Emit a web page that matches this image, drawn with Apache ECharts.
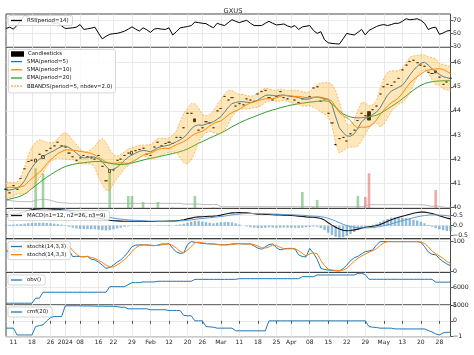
<!DOCTYPE html>
<html><head><meta charset="utf-8">
<script src="https://cdn.jsdelivr.net/npm/echarts@6/dist/echarts.min.js"></script>
<style>html,body{margin:0;padding:0;background:#fff}#c{width:474px;height:355px}</style>
</head><body><div id="c"></div>
<script>
const dates = [
'2023-12-07','2023-12-08','2023-12-11','2023-12-12','2023-12-13','2023-12-14','2023-12-15','2023-12-18','2023-12-19','2023-12-20',
'2023-12-21','2023-12-22','2023-12-26','2023-12-27','2023-12-28','2023-12-29','2024-01-02','2024-01-03','2024-01-04','2024-01-05',
'2024-01-08','2024-01-09','2024-01-10','2024-01-11','2024-01-12','2024-01-16','2024-01-17','2024-01-18','2024-01-19','2024-01-22',
'2024-01-23','2024-01-24','2024-01-25','2024-01-26','2024-01-29','2024-01-30','2024-01-31','2024-02-01','2024-02-02','2024-02-05',
'2024-02-06','2024-02-07','2024-02-08','2024-02-09','2024-02-12','2024-02-13','2024-02-14','2024-02-15','2024-02-16','2024-02-20',
'2024-02-21','2024-02-22','2024-02-23','2024-02-26','2024-02-27','2024-02-28','2024-02-29','2024-03-01','2024-03-04','2024-03-05',
'2024-03-06','2024-03-07','2024-03-08','2024-03-11','2024-03-12','2024-03-13','2024-03-14','2024-03-15','2024-03-18','2024-03-19',
'2024-03-20','2024-03-21','2024-03-22','2024-03-25','2024-03-26','2024-03-27','2024-03-28','2024-04-01','2024-04-02','2024-04-03',
'2024-04-04','2024-04-05','2024-04-08','2024-04-09','2024-04-10','2024-04-11','2024-04-12','2024-04-15','2024-04-16','2024-04-17',
'2024-04-18','2024-04-19','2024-04-22','2024-04-23','2024-04-24','2024-04-25','2024-04-26','2024-04-29','2024-04-30','2024-05-01',
'2024-05-02','2024-05-03','2024-05-06','2024-05-07','2024-05-08','2024-05-09','2024-05-10','2024-05-13','2024-05-14','2024-05-15',
'2024-05-16','2024-05-17','2024-05-20','2024-05-21','2024-05-22','2024-05-23','2024-05-24','2024-05-28','2024-05-29','2024-05-30',
'2024-05-31'];

const tickDates = ['2023-12-11','2023-12-18','2023-12-26','2024-01-02','2024-01-08','2024-01-16','2024-01-22','2024-01-29','2024-02-05','2024-02-12','2024-02-20','2024-02-26','2024-03-04','2024-03-11','2024-03-18','2024-03-25','2024-04-01','2024-04-08','2024-04-15','2024-04-22','2024-04-29','2024-05-06','2024-05-13','2024-05-20','2024-05-28'];
const tickLabels = ['11','18','26','2024','08','16','22','29','Feb','12','20','26','Mar','11','18','25','Apr','08','15','22','29','May','13','20','28'];

const close = [
40.75,40.60,40.90,40.75,41.20,41.60,41.90,41.95,42.00,42.20,
42.15,42.35,42.45,42.55,42.70,42.55,42.50,42.25,42.10,41.95,
42.05,42.15,42.10,42.05,42.00,42.15,41.70,41.10,41.57,41.55,
41.95,42.00,42.15,42.25,42.32,42.35,42.40,42.45,42.20,42.15,
42.50,42.70,42.55,42.65,42.70,42.65,42.90,42.90,43.30,43.90,
43.90,43.55,43.20,43.30,43.55,43.50,43.30,44.00,44.10,44.60,
44.45,44.55,44.20,44.30,44.25,44.50,44.45,44.40,44.70,44.80,
44.85,44.55,44.45,44.60,44.80,44.55,44.50,44.60,44.45,44.35,
44.50,44.55,44.60,44.95,45.00,44.40,44.50,43.90,43.50,42.60,
42.85,42.90,42.75,43.05,43.20,43.60,43.90,43.80,43.62,44.05,
44.20,44.70,45.00,45.10,45.05,45.20,45.35,45.70,45.90,46.05,
46.10,46.00,45.90,45.85,45.60,45.55,45.58,45.40,45.10,45.20,45.35];
const open = [
40.75,40.60,40.90,40.75,41.20,41.60,41.90,41.95,41.88,42.20,
42.03,42.35,42.45,42.55,42.70,42.55,42.50,42.25,42.10,41.95,
42.05,42.15,42.10,42.05,42.00,42.15,41.70,41.10,41.45,41.55,
41.95,42.00,42.15,42.25,42.20,42.35,42.40,42.45,42.20,42.15,
42.50,42.70,42.55,42.65,42.70,42.65,42.90,42.90,43.30,43.90,
43.90,43.67,43.20,43.30,43.55,43.50,43.30,44.00,44.10,44.60,
44.45,44.55,44.20,44.30,44.25,44.50,44.45,44.40,44.70,44.80,
44.85,44.55,44.45,44.60,44.80,44.55,44.50,44.60,44.45,44.35,
44.50,44.55,44.60,44.95,45.00,44.40,44.50,43.90,43.50,42.60,
42.85,42.90,42.75,43.05,43.20,43.60,43.90,43.80,43.97,44.05,
44.20,44.70,45.00,45.10,45.05,45.20,45.35,45.70,45.90,46.05,
46.10,46.00,45.90,45.85,45.60,45.55,45.66,45.40,45.10,45.20,45.35];

const sma5 = [
40.70,40.72,40.75,40.80,40.90,41.10,41.40,41.65,41.85,42.00,
42.10,42.20,42.28,42.35,42.45,42.52,42.55,42.48,42.38,42.25,
42.12,42.05,42.06,42.10,42.08,42.00,41.90,41.70,41.55,41.58,
41.66,41.80,41.95,42.08,42.17,42.25,42.32,42.36,42.34,42.30,
42.38,42.48,42.52,42.55,42.58,42.65,42.72,42.80,42.90,43.05,
43.25,43.38,43.42,43.40,43.45,43.50,43.55,43.65,43.76,43.95,
44.15,44.30,44.35,44.38,44.38,44.36,44.35,44.38,44.45,44.55,
44.64,44.66,44.64,44.62,44.65,44.66,44.62,44.60,44.58,44.55,
44.50,44.48,44.50,44.55,44.58,44.56,44.52,44.48,44.25,43.75,
43.30,43.10,42.96,42.95,43.05,43.28,43.55,43.68,43.75,43.85,
43.95,44.12,44.40,44.65,44.82,44.90,44.98,45.06,45.25,45.48,
45.68,45.85,45.98,46.02,45.90,45.75,45.62,45.52,45.42,45.38,45.34];
const sma10 = [
40.82,40.83,40.83,40.82,40.85,40.90,41.06,41.20,41.33,41.45,
41.60,41.80,41.97,42.10,42.23,42.31,42.38,42.38,42.37,42.35,
42.32,42.30,42.27,42.24,42.17,42.06,41.98,41.88,41.83,41.83,
41.83,41.85,41.83,41.82,41.88,41.96,42.06,42.16,42.21,42.24,
42.32,42.40,42.44,42.45,42.44,42.52,42.60,42.66,42.73,42.82,
42.95,43.05,43.11,43.15,43.25,43.38,43.47,43.54,43.58,43.70,
43.83,43.93,44.00,44.07,44.17,44.26,44.33,44.37,44.42,44.47,
44.50,44.51,44.51,44.54,44.60,44.65,44.64,44.62,44.60,44.60,
44.58,44.55,44.55,44.57,44.57,44.53,44.50,44.49,44.40,44.17,
43.93,43.81,43.72,43.60,43.40,43.29,43.33,43.32,43.35,43.45,
43.62,43.84,44.04,44.20,44.34,44.43,44.55,44.73,44.95,45.15,
45.29,45.42,45.52,45.64,45.69,45.72,45.74,45.75,45.72,45.64,45.55];
const ema20 = [
40.30,40.34,40.38,40.42,40.47,40.55,40.65,40.78,40.90,41.02,
41.14,41.25,41.35,41.45,41.54,41.62,41.69,41.74,41.78,41.81,
41.83,41.85,41.87,41.89,41.90,41.90,41.89,41.86,41.83,41.80,
41.78,41.77,41.78,41.80,41.84,41.88,41.92,41.96,42.00,42.03,
42.06,42.09,42.13,42.16,42.20,42.23,42.27,42.31,42.36,42.42,
42.50,42.58,42.66,42.73,42.80,42.87,42.94,43.01,43.08,43.16,
43.25,43.34,43.42,43.50,43.57,43.64,43.70,43.76,43.82,43.88,
43.94,43.99,44.04,44.08,44.13,44.17,44.21,44.24,44.27,44.30,
44.32,44.34,44.36,44.38,44.40,44.41,44.42,44.40,44.30,44.15,
44.00,43.88,43.80,43.75,43.72,43.71,43.72,43.73,43.75,43.78,
43.82,43.89,43.98,44.08,44.18,44.28,44.38,44.50,44.62,44.74,
44.86,44.97,45.06,45.13,45.18,45.21,45.23,45.24,45.25,45.25,45.25];
const bbUpper = [
41.05,41.04,41.03,41.05,41.25,41.65,42.15,42.50,42.70,42.80,
42.75,42.70,42.68,42.70,42.85,43.02,43.10,42.98,42.78,42.60,
42.42,42.30,42.31,42.40,42.53,42.75,42.85,42.70,42.40,42.18,
42.11,42.20,42.30,42.43,42.47,42.53,42.57,42.58,42.59,42.60,
42.73,42.86,42.87,42.85,42.88,43.00,43.17,43.55,43.90,44.10,
44.30,44.30,44.12,43.85,43.80,43.85,44.00,44.25,44.46,44.70,
44.85,44.85,44.75,44.68,44.68,44.64,44.60,44.63,44.75,44.87,
44.94,44.91,44.86,44.84,44.90,44.88,44.84,44.85,44.86,44.85,
44.80,44.76,44.80,44.95,45.08,45.16,45.17,45.18,45.10,44.85,
44.35,43.85,43.46,43.40,43.60,44.03,44.35,44.33,44.20,44.25,
44.40,44.92,45.35,45.60,45.67,45.65,45.68,45.76,46.00,46.23,
46.28,46.30,46.33,46.32,46.25,46.20,46.17,45.97,45.92,45.88,45.84];
const bbLower = [
40.35,40.40,40.47,40.55,40.55,40.55,40.65,40.80,41.00,41.20,
41.45,41.70,41.88,42.00,42.05,42.02,42.00,41.98,41.98,41.90,
41.82,41.80,41.81,41.80,41.63,41.25,40.95,40.70,40.70,40.98,
41.21,41.40,41.60,41.73,41.87,41.97,42.07,42.14,42.09,42.00,
42.03,42.10,42.17,42.25,42.28,42.30,42.27,42.05,41.85,41.80,
41.95,42.30,42.72,42.95,43.10,43.15,43.10,43.05,43.06,43.20,
43.45,43.75,43.95,44.08,44.08,44.08,44.10,44.13,44.15,44.23,
44.34,44.41,44.42,44.40,44.40,44.44,44.40,44.35,44.30,44.25,
44.20,44.20,44.20,44.15,44.08,43.96,43.87,43.78,43.40,42.65,
42.25,42.35,42.46,42.50,42.50,42.53,42.75,43.03,43.30,43.45,
43.50,43.32,43.45,43.70,43.97,44.15,44.28,44.36,44.50,44.73,
45.08,45.40,45.63,45.72,45.55,45.30,45.07,45.07,44.92,44.88,44.84];

const volUp = [
0,0,0,0,0,0,0,0,300,0,
263,0,0,0,0,0,0,0,0,0,
5,0,0,0,0,0,0,0,272,0,
0,0,0,92,92,0,0,47,0,0,
0,47,0,0,0,5,0,0,0,0,
0,92,0,0,0,0,0,0,0,0,
0,0,0,0,0,0,0,0,0,0,
0,0,0,0,0,0,0,0,0,0,
122,0,0,0,62,0,0,0,0,0,
0,0,0,0,0,92,0,0,0,0,
0,0,0,0,0,0,0,0,0,0,
0,0,0,0,0,0,0,0,0,0,0];
const volDown = [
0,0,0,0,0,0,0,0,0,0,
0,0,0,0,0,0,0,0,0,0,
0,0,0,0,0,0,0,0,0,0,
0,0,0,0,0,0,0,0,0,0,
0,0,0,0,0,0,0,0,0,0,
0,0,0,0,0,0,6,0,0,0,
0,0,0,0,0,0,0,0,0,0,
0,0,0,0,0,0,0,0,0,0,
0,0,0,8,0,0,0,0,0,0,
0,0,5,0,0,0,0,85,263,0,
0,0,0,0,0,0,0,0,0,0,
0,0,0,0,0,0,137,0,0,0,0];
const volMA = [
62,58,55,52,50,50,50,50,62,64,
68,66,60,52,45,42,40,37,37,37,
37,37,37,37,37,37,37,37,37,37,
37,37,37,37,37,37,37,37,37,37,
37,37,37,37,37,37,37,37,32,32,
32,32,32,28,28,28,28,28,12,12,
12,12,12,12,12,12,12,12,12,12,
12,12,12,12,12,12,12,12,12,12,
12,12,12,12,12,12,12,12,12,12,
12,12,12,12,12,12,12,16,28,27,
27,27,27,27,27,27,27,27,27,27,
27,27,27,24,20,15,18,14,10,6,4];

const rsi = [
58,60,57,63,70,78,76,72,73,70,
71,68,69,66,67,62,58,58.5,59,60,
64,56.5,57.5,58.5,60,50.5,42,46,49,50,
50.5,52,54,57,60.5,57,54,59,56,52,
57,58,57,56.5,59,48,53,59,60,61,
62.5,68,67,66,65.5,62,59,66,64,62.5,
67,71.5,69,67,69,70.5,66,62.5,62.5,62.5,
66,69,66,63.5,64,65,62,60,62.5,56.5,
60.5,61.5,62.5,55,50.5,53,40.5,36,35,34.5,
34,42,50.5,49,48,52,56.5,48,55,58,
61,63,64,62.5,64,66,66,69,73,71.5,
72,73,70.5,66,56.5,59,60,49,51,54,55];

const macd = [
0.55,0.56,0.58,0.60,0.64,0.70,0.76,0.80,0.82,0.84,
0.85,0.85,0.84,0.83,0.82,0.80,0.77,0.72,0.66,0.60,
0.55,0.50,0.46,0.43,0.40,0.38,0.34,0.30,0.27,0.25,
0.24,0.23,0.22,0.22,0.22,0.22,0.22,0.22,0.21,0.21,
0.21,0.22,0.22,0.22,0.23,0.23,0.25,0.27,0.30,0.34,
0.38,0.42,0.44,0.45,0.46,0.47,0.48,0.50,0.53,0.57,
0.61,0.64,0.65,0.66,0.65,0.64,0.62,0.60,0.58,0.57,
0.56,0.56,0.55,0.54,0.54,0.53,0.52,0.51,0.50,0.48,
0.46,0.44,0.43,0.42,0.40,0.36,0.28,0.15,0.03,-0.08,
-0.17,-0.23,-0.25,-0.24,-0.21,-0.17,-0.12,-0.08,-0.05,-0.03,
0.00,0.06,0.14,0.22,0.30,0.36,0.42,0.47,0.52,0.57,
0.62,0.66,0.68,0.68,0.65,0.61,0.56,0.50,0.44,0.38,0.34];
const macdSignal = [
0.45,0.47,0.49,0.51,0.53,0.56,0.59,0.62,0.65,0.68,
0.70,0.72,0.74,0.76,0.77,0.78,0.78,0.77,0.75,0.72,
0.69,0.65,0.61,0.58,0.54,0.51,0.47,0.44,0.41,0.38,
0.35,0.33,0.31,0.29,0.28,0.27,0.26,0.25,0.24,0.23,
0.23,0.22,0.22,0.22,0.22,0.22,0.23,0.24,0.25,0.27,
0.29,0.32,0.34,0.36,0.38,0.40,0.42,0.44,0.46,0.48,
0.51,0.54,0.56,0.58,0.60,0.61,0.61,0.61,0.61,0.60,
0.60,0.59,0.58,0.58,0.57,0.56,0.56,0.55,0.54,0.53,
0.52,0.51,0.49,0.48,0.47,0.45,0.42,0.37,0.31,0.23,
0.15,0.07,0.01,-0.04,-0.08,-0.10,-0.11,-0.11,-0.10,-0.09,
-0.07,-0.04,0.00,0.04,0.09,0.15,0.20,0.25,0.30,0.35,
0.40,0.44,0.48,0.51,0.53,0.54,0.54,0.53,0.52,0.50,0.48];
const macdHist = [
0.05,0.05,0.06,0.07,0.08,0.10,0.12,0.14,0.15,0.15,
0.15,0.14,0.12,0.10,0.08,0.05,0.02,-0.05,-0.10,-0.14,
-0.16,-0.17,-0.17,-0.18,-0.18,-0.20,-0.22,-0.24,-0.22,-0.18,
-0.14,-0.10,-0.06,-0.03,-0.01,0.01,0.02,0.01,-0.01,-0.02,
0.00,0.02,0.02,0.02,0.03,0.00,0.04,0.06,0.10,0.15,
0.20,0.25,0.24,0.20,0.18,0.15,0.12,0.15,0.17,0.18,
0.18,0.16,0.12,0.06,0.00,-0.04,-0.08,-0.10,-0.12,-0.12,
-0.10,-0.08,-0.09,-0.10,-0.10,-0.09,-0.10,-0.10,-0.10,-0.11,
-0.10,-0.08,-0.06,-0.04,-0.05,-0.12,-0.22,-0.35,-0.46,-0.55,
-0.60,-0.58,-0.50,-0.42,-0.32,-0.22,-0.12,-0.05,0.00,0.05,
0.10,0.18,0.26,0.34,0.40,0.42,0.42,0.40,0.38,0.36,
0.30,0.26,0.20,0.12,0.04,-0.05,-0.12,-0.18,-0.22,-0.26,-0.28];

const stochK = [
70,60,75,65,85,95,100,97,95,98,
96,98,100,98,100,97,90,72,49,50,
49,48,50,40,38,30,20,9,12,20,
30,38,50,65,83,88,89,89,89,87,
86,88,92,92,93,77,65,60,62,90,
100,98,96,94,93,92,92,90,89,89,
90,92,93,93,92,92,92,85,78,74,
82,90,92,80,72,75,77,77,75,55,
49,48,77,60,40,9,5,3,2,1,
0,8,20,35,45,50,58,66,68,72,
88,100,100,100,100,100,100,100,100,100,
100,100,98,83,65,57,55,42,32,24,18];
const stochD = [
72,68,68,67,75,82,93,97,97,97,
96,97,98,99,99,98,96,86,70,57,
49,49,49,46,43,36,29,20,14,14,
21,29,39,51,66,79,87,89,89,88,
87,87,89,91,92,87,78,67,62,71,
84,96,98,96,94,93,92,91,90,89,
89,90,92,93,93,92,92,90,85,79,
78,82,88,87,81,76,75,76,76,69,
60,51,58,62,59,36,18,6,3,2,
1,3,9,21,33,43,51,58,64,69,
76,87,96,100,100,100,100,100,100,100,
100,100,99,94,82,68,59,51,43,33,25];

const obv = [
5098,5098,5098,5098,5098,5098,5098,5098,5390,5390,
5735,5735,5735,5735,5735,5735,5735,5735,5735,5735,
5735,5735,5735,5735,5735,5735,5735,5735,6058,6058,
6058,6058,6058,6175,6290,6290,6290,6330,6330,6330,
6330,6370,6370,6370,6370,6370,6370,6370,6370,6370,
6370,6480,6480,6480,6480,6480,6480,6480,6480,6480,
6480,6480,6480,6520,6520,6520,6520,6520,6520,6520,
6520,6520,6520,6520,6520,6520,6520,6520,6520,6520,
6636,6636,6636,6636,6734,6734,6734,6734,6734,6734,
6734,6734,6734,6734,6734,6832,6832,6747,6485,6485,
6485,6485,6485,6485,6485,6485,6485,6485,6485,6485,
6485,6485,6485,6485,6485,6485,6320,6320,6320,6320,6320];

const cmf = [
-0.46,-0.46,-0.46,-0.89,-0.89,-0.89,-0.89,-0.89,-0.36,-0.30,
-0.25,0.00,0.21,0.27,0.27,0.27,0.95,0.95,0.95,0.95,
0.95,0.94,0.94,0.94,0.93,0.93,0.93,0.92,0.92,0.92,
0.90,0.86,0.86,0.76,0.76,0.76,0.76,0.76,0.76,0.70,
0.70,0.70,0.70,0.70,0.65,0.65,0.65,0.65,0.34,0.32,
0.32,0.00,0.00,0.00,-0.36,-0.38,-0.40,-0.46,-0.46,-0.46,
-0.46,-0.46,-0.63,-0.63,-0.63,-0.63,-0.63,-0.63,-0.63,-0.63,
-0.63,0,0,0,0,0,0,0,0,0,
0,0,0,0,0,0,0,0,0,0,
0,0,0,0,0,0,0,0,-0.36,-0.40,
-0.42,-0.46,-0.46,-0.46,-0.46,-0.51,-0.51,-0.51,-0.51,-0.51,
-0.51,-0.51,-0.51,-0.51,-0.61,-0.70,-0.82,-0.89,-0.76,-0.72,-0.72];

// ---------- chart ----------
const FONT = 'DejaVu Sans';
const tickSet = new Set(tickDates);
const labelMap = {}; tickDates.forEach((d, k) => labelMap[d] = tickLabels[k]);
const tickFn = (idx) => tickSet.has(dates[idx]);

const gridDefs = [
  {top: 14, height: 33},
  {top: 47, height: 161.3},
  {top: 208.3, height: 30.4},
  {top: 238.7, height: 33.6},
  {top: 272.3, height: 32.7},
  {top: 305, height: 31.7}
];
const grids = gridDefs.map(g => ({left: 6, right: 23.5, top: g.top, height: g.height,
  show: true, borderColor: '#333', borderWidth: 0.9, backgroundColor: 'transparent'}));

const xAxes = gridDefs.map((g, k) => ({
  type: 'category', gridIndex: k, data: dates, boundaryGap: false,
  axisLine: {show: false},
  axisTick: {show: k === 5, interval: tickFn, length: 3, lineStyle: {color: '#333', width: 0.8}},
  axisLabel: {show: k === 5, interval: tickFn, formatter: v => labelMap[v] || '', fontSize: 6, color: '#222', fontFamily: FONT, margin: 3},
  splitLine: {show: true, interval: tickFn, lineStyle: {color: '#e4e4e4', width: 0.8}}
}));

function yAx(grid, min, max, vals, fmt) {
  return {
    type: 'value', gridIndex: grid, position: 'right', min: min, max: max, scale: true,
    axisLine: {show: false},
    axisTick: {show: true, length: 3, customValues: vals, lineStyle: {color: '#333', width: 0.8}},
    axisLabel: {show: true, customValues: vals, fontSize: 6.2, color: '#222', fontFamily: FONT, margin: 2.5,
      formatter: fmt || (v => String(v).replace('-', '\u2212'))},
    splitLine: {show: true, lineStyle: {color: '#e4e4e4', width: 0.8}}
  };
}
const yAxes = [
  yAx(0, 29.5, 80.3, [30, 50, 70]),
  yAx(1, 39.96, 46.65, [40, 41, 42, 43, 44, 45, 46]),
  {type: 'value', gridIndex: 1, min: 0, max: 1210, show: false, splitLine: {show: false}},
  yAx(2, -0.65, 0.87, [-0.5, 0, 0.5], v => v.toFixed(1).replace('-', '\u2212')),
  yAx(3, -4.5, 110, [0, 100]),
  yAx(4, 4995, 6890, [5000, 6000]),
  yAx(5, -1, 1, [-1, 0, 1])
];

const candles = close.map((c, i) => [open[i], c, Math.min(open[i], c), Math.max(open[i], c)]);
const bbWidth = bbUpper.map((u, i) => +(u - bbLower[i]).toFixed(4));

function line(name, xi, yi, data, color, width, extra) {
  return Object.assign({name: name, type: 'line', xAxisIndex: xi, yAxisIndex: yi, data: data,
    symbol: 'none', showSymbol: false, lineStyle: {color: color, width: width}, itemStyle: {color: color}, z: 3}, extra || {});
}
const BB = 'BBANDS(period=5, nbdev=2.0)';
const BBC = '#f5a03a';
const series = [
  line('RSI(period=14)', 0, 0, rsi, '#000', 1),
  {name: 'volUp', type: 'bar', xAxisIndex: 1, yAxisIndex: 2, data: volUp, barWidth: 2.6, itemStyle: {color: 'rgba(44,160,44,0.45)'}, z: 1},
  {name: 'volDown', type: 'bar', xAxisIndex: 1, yAxisIndex: 2, data: volDown, barWidth: 2.6, barGap: '-100%', itemStyle: {color: 'rgba(214,39,40,0.4)'}, z: 1},
  line('volMA', 1, 2, volMA, '#aaaaaa', 0.8, {z: 1}),
  {name: 'Candlesticks', type: 'candlestick', xAxisIndex: 1, yAxisIndex: 1, data: candles, barWidth: 2.6,
    itemStyle: {color: '#fff', color0: '#000', borderColor: '#000', borderColor0: '#000', borderWidth: 0.8}, z: 2},
  line('SMA(period=5)', 1, 1, sma5, '#1f77b4', 1),
  line('SMA(period=10)', 1, 1, sma10, '#ff7f0e', 1),
  line('EMA(period=20)', 1, 1, ema20, '#2ca02c', 1),
  line(BB, 1, 1, bbUpper, BBC, 0.7, {lineStyle: {color: BBC, width: 0.7, type: [2, 1.5]}}),
  line(BB, 1, 1, bbLower, BBC, 0.7, {lineStyle: {color: BBC, width: 0.7, type: [2, 1.5]}}),
  {name: 'bbBase', type: 'line', xAxisIndex: 1, yAxisIndex: 1, data: bbLower, stack: 'bb', symbol: 'none', lineStyle: {opacity: 0}, silent: true, z: 4},
  {name: 'bbFill', type: 'line', xAxisIndex: 1, yAxisIndex: 1, data: bbWidth, stack: 'bb', symbol: 'none', lineStyle: {opacity: 0},
    areaStyle: {color: '#ffa500', opacity: 0.27}, silent: true, z: 4},
  {name: 'macdHist', type: 'bar', xAxisIndex: 2, yAxisIndex: 3, data: macdHist, barWidth: 2.4, itemStyle: {color: 'rgba(31,119,180,0.5)'}, z: 1},
  line('MACD(n1=12, n2=26, n3=9)', 2, 3, macd, '#111', 1.1),
  line('signal', 2, 3, macdSignal, '#5b9bd5', 1),
  line('stochk(14,3,3)', 3, 4, stochK, '#1f77b4', 1),
  line('stochd(14,3,3)', 3, 4, stochD, '#ff7f0e', 1),
  line('obv()', 4, 5, obv, '#1f77b4', 1),
  line('cmf(20)', 5, 6, cmf, '#1f77b4', 1)
];

const DASH_ICON = 'path://M0,0h2.2v1h-2.2zM3.6,0h2.2v1h-2.2zM7.2,0h2.2v1h-2.2zM10.8,0h2.2v1h-2.2z';
function leg(top, data, opts) {
  return Object.assign({top: top, left: 8, orient: 'vertical', data: data, icon: 'rect', itemWidth: 11, itemHeight: 1.3, itemGap: 2.2,
    symbolKeepAspect: false, z: 10,
    padding: [2, 4, 2, 3], backgroundColor: 'rgba(255,255,255,0.85)', borderColor: '#cccccc', borderWidth: 0.8, borderRadius: 2,
    textStyle: {fontSize: 5.4, color: '#111', fontFamily: FONT, lineHeight: 6}, selectedMode: false}, opts || {});
}
const noBox = {backgroundColor: 'transparent', borderWidth: 0};
const legends = [
  leg(15.5, ['RSI(period=14)']),
  leg(51, [{name: 'Candlesticks', icon: 'rect', itemStyle: {color: '#000', borderColor: '#000'}}], Object.assign({itemHeight: 3.4, padding: [0, 4, 0, 3]}, noBox)),
  leg(58.6, ['SMA(period=5)', 'SMA(period=10)', 'EMA(period=20)', {name: BB, icon: DASH_ICON}], Object.assign({padding: [0, 4, 0, 3]}, noBox)),
  leg(210.5, ['MACD(n1=12, n2=26, n3=9)']),
  leg(241.5, ['stochk(14,3,3)', 'stochd(14,3,3)']),
  leg(275, ['obv()']),
  leg(307, ['cmf(20)'])
];

const chart = echarts.init(document.getElementById('c'), null, {renderer: 'canvas'});
chart.setOption({
  animation: false,
  backgroundColor: '#fff',
  title: {text: 'GXUS', left: 228, top: 3, textAlign: 'center', textStyle: {fontSize: 6.7, fontWeight: 'normal', color: '#222', fontFamily: FONT}},
  graphic: [{type: 'rect', left: 8, top: 49, z: 8, silent: true,
    shape: {width: 107, height: 43.5, r: 2}, style: {fill: 'rgba(255,255,255,0.85)', stroke: '#cccccc', lineWidth: 0.8}}],
  grid: grids, xAxis: xAxes, yAxis: yAxes, legend: legends, series: series
});
</script></body></html>
